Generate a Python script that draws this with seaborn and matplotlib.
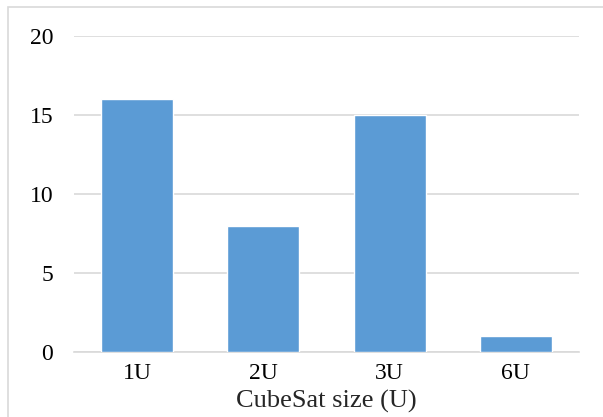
import matplotlib
matplotlib.use("Agg")
import matplotlib.pyplot as plt
from matplotlib.patches import Rectangle
import seaborn as sns
import pandas as pd

sizes = ["1U", "2U", "3U", "6U"]
counts = [16, 8, 15, 1]
y_ticks = [0, 5, 10, 15, 20]

sns.set_theme(style="white")
plt.rcParams["font.family"] = ["Liberation Serif", "DejaVu Serif"]

df = pd.DataFrame({"size": sizes, "count": counts})

fig = plt.figure(figsize=(6.03, 4.17), dpi=100)
ax = fig.add_axes([74 / 603, 1 - 352 / 417, (579 - 74) / 603, (352 - 36) / 417])

sns.barplot(data=df, x="size", y="count", color="#5B9BD5", saturation=1,
            width=0.57, ax=ax, zorder=3)

ax.set_ylim(0, 20)
ax.set_xlim(-0.5, len(sizes) - 0.5)
ax.set_yticks(y_ticks)
ax.yaxis.grid(True, color="#d9d9d9", linewidth=1.2, zorder=0)
ax.xaxis.grid(False)
for side in ["left", "right", "top"]:
    ax.spines[side].set_visible(False)
ax.spines["bottom"].set_color("#d9d9d9")
ax.spines["bottom"].set_linewidth(1.2)
ax.tick_params(axis="both", length=0, labelsize=17, colors="black")
ax.tick_params(axis="y", pad=15)
ax.tick_params(axis="x", pad=8)
ax.set_ylabel("")
ax.set_xlabel("CubeSat size (U)", fontsize=19, labelpad=4)

# chart-area frame
fig.patches.append(Rectangle((8 / 603, -0.1), 1.2, 1 - 7 / 417 + 0.1,
                             transform=fig.transFigure, fill=False,
                             edgecolor="#d9d9d9", linewidth=1.2))

fig.savefig("out.png", dpi=100)
